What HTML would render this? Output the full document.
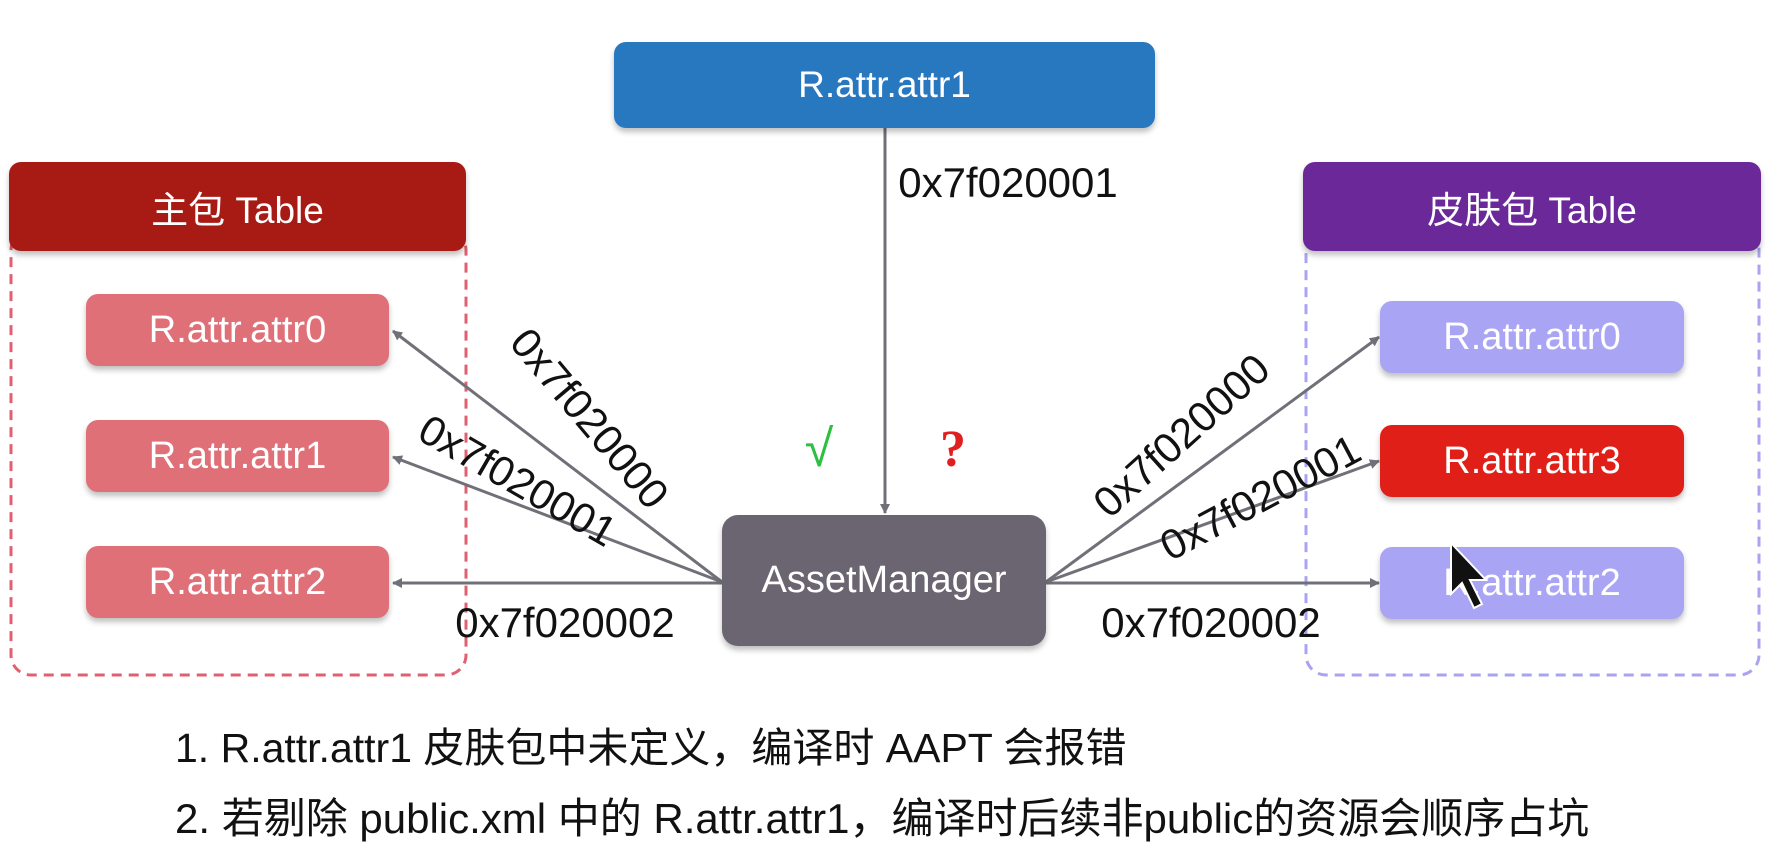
<!DOCTYPE html>
<html><head><meta charset="utf-8"><style>
html,body{margin:0;padding:0;background:#fff;}
body{width:1772px;height:846px;overflow:hidden;position:relative;font-family:"Liberation Sans","Noto Sans CJK SC",sans-serif;}
.b{position:absolute;display:flex;align-items:center;justify-content:center;color:#fff;border-radius:12px;box-shadow:0 4px 6px rgba(0,0,0,0.25);}
svg{position:absolute;left:0;top:0;}
</style></head><body>
<svg width="1772" height="846">
<defs><marker id="a" markerWidth="10" markerHeight="10" refX="9" refY="5" orient="auto" markerUnits="userSpaceOnUse"><path d="M0,0 L10,5 L0,10 z" fill="#707078"/></marker></defs>
<rect x="11" y="230" width="455" height="445" rx="20" fill="none" stroke="#e06070" stroke-width="3" stroke-dasharray="10,7"/>
<rect x="1306" y="230" width="453" height="445" rx="20" fill="none" stroke="#aaa4f0" stroke-width="3" stroke-dasharray="10,7"/>
<g stroke="#707078" stroke-width="3" marker-end="url(#a)">
<line x1="885" y1="128" x2="885" y2="513"/>
<line x1="722" y1="582" x2="393" y2="331"/>
<line x1="722" y1="582" x2="393" y2="457"/>
<line x1="722" y1="583" x2="393" y2="583"/>
<line x1="1046" y1="582" x2="1379" y2="337"/>
<line x1="1046" y1="582" x2="1379" y2="461"/>
<line x1="1046" y1="583" x2="1379" y2="583"/>
</g>
<g font-family="Liberation Sans, sans-serif" font-size="42" fill="#111" text-anchor="middle">
<text x="1008" y="197">0x7f020001</text>
<text x="590" y="433" transform="rotate(50 590 418)">0x7f020000</text>
<text x="518" y="495" transform="rotate(30 518 480)">0x7f020001</text>
<text x="565" y="637">0x7f020002</text>
<text x="1181" y="450" transform="rotate(-42 1181 435)">0x7f020000</text>
<text x="1260" y="512" transform="rotate(-28 1260 497)">0x7f020001</text>
<text x="1211" y="637">0x7f020002</text>
</g>
<text x="819" y="466" font-size="52" fill="#2cc040" text-anchor="middle" font-family="Liberation Sans, sans-serif">√</text>
<text x="953" y="466" font-size="52" font-weight="bold" fill="#e02020" text-anchor="middle" font-family="Liberation Serif, serif">?</text>
</svg>
<div class="b" style="left:614px;top:42px;width:541px;height:86px;background:#2878c0;font-size:37px;">R.attr.attr1</div>
<div class="b" style="left:9px;top:162px;width:457px;height:89px;background:#a81a14;font-size:37px;">主包 Table</div>
<div class="b" style="left:1303px;top:162px;width:458px;height:89px;background:#6a2898;font-size:37px;">皮肤包 Table</div>
<div class="b" style="left:86px;top:294px;width:303px;height:72px;background:#e07078;font-size:38px;">R.attr.attr0</div>
<div class="b" style="left:86px;top:420px;width:303px;height:72px;background:#e07078;font-size:38px;">R.attr.attr1</div>
<div class="b" style="left:86px;top:546px;width:303px;height:72px;background:#e07078;font-size:38px;">R.attr.attr2</div>
<div class="b" style="left:1380px;top:301px;width:304px;height:72px;background:#aaa4f4;font-size:38px;">R.attr.attr0</div>
<div class="b" style="left:1380px;top:425px;width:304px;height:72px;background:#e02018;font-size:38px;">R.attr.attr3</div>
<div class="b" style="left:1380px;top:547px;width:304px;height:72px;background:#aaa4f4;font-size:38px;">R.attr.attr2</div>
<div class="b" style="left:722px;top:515px;width:324px;height:131px;background:#6a6570;font-size:38px;border-radius:16px;">AssetManager</div>
<svg width="1772" height="846" style="pointer-events:none"><path d="M1451,543 L1451,594 L1462,583 L1474,608 L1482,604 L1470,580 L1486,580 Z" fill="#111" stroke="#fff" stroke-width="2"/></svg>
<div style="position:absolute;left:175px;top:714px;font-size:41px;color:#111;white-space:nowrap;">1. R.attr.attr1 皮肤包中未定义，编译时 AAPT 会报错</div>
<div style="position:absolute;left:175px;top:785px;font-size:42px;color:#111;white-space:nowrap;">2. 若剔除 public.xml 中的 R.attr.attr1，编译时后续非public的资源会顺序占坑</div>
</body></html>
